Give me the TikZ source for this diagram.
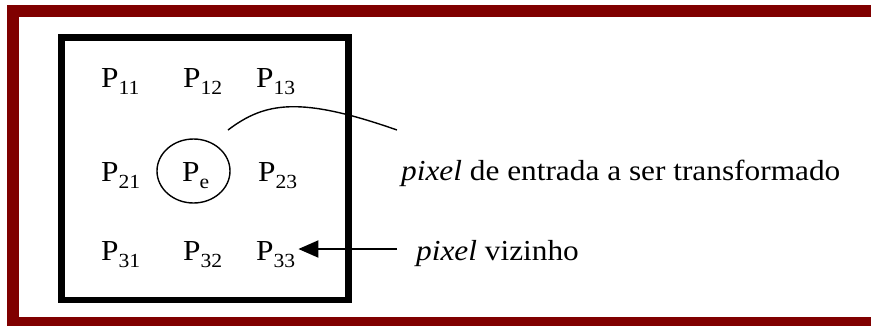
\documentclass[tikz,border=0pt]{standalone}
\usepackage{fontspec}
\setmainfont{Liberation Serif}[FakeStretch=1.08]
\usetikzlibrary{arrows.meta,shapes.geometric}
\usepackage{xcolor}
\definecolor{maroon}{HTML}{800000}
\definecolor{ink}{HTML}{000000}
\newcommand{\pxsub}[1]{\raisebox{-0.25em}{\fontsize{20}{22}\selectfont #1}}
\tikzset{
  every node/.style={font=\fontsize{29}{33}\selectfont,text=ink,inner sep=0pt},
  pix/.style={anchor=base west},
  caption/.style={anchor=base west},
  ring/.style={draw=ink,line width=1.4pt,ellipse,minimum width=73pt,minimum height=64pt,anchor=center},
  outerframe/.style={draw=maroon,line width=12pt},
  window/.style={draw=ink,line width=6.5pt},
  link/.style={draw=ink,line width=1.4pt},
  pointer/.style={-{Triangle[length=20pt,width=17pt]},draw=ink,line width=2pt},
}

\begin{document}
\begin{tikzpicture}[x=1pt,y=-1pt]
\useasboundingbox (0,0) rectangle (871,325);
% frame, open on the right
\draw[outerframe] (890,11.3) -- (13,11.3) -- (13,323) -- (890,323);
\draw[window] (61.7,37.7) rectangle (348.7,300);
% 3x3 neighbourhood
\node[pix] (p11) at (101,87) {P\pxsub{11}};
\node[pix] (p12) at (183,87) {P\pxsub{12}};
\node[pix] (p13) at (256,87) {P\pxsub{13}};
\node[pix] (p21) at (101,181) {P\pxsub{21}};
\node[ring] (pering) at (193.5,171) {};
\node[pix] (pe) at (182,181) {P\pxsub{e}};
\node[pix] (p23) at (258,181) {P\pxsub{23}};
\node[pix] (p31) at (101,260) {P\pxsub{31}};
\node[pix] (p32) at (183,260) {P\pxsub{32}};
\node[pix] (p33) at (256,260) {P\pxsub{33}};
% captions
\node[caption] (entrada) at (401,180) {\textit{pixel} de entrada a ser transformado};
\node[caption] (vizinho) at (416,260) {\textit{pixel} vizinho};
\coordinate (bendstart) at (228,130);
\coordinate (bendend) at (397,130);
\draw[link] (bendstart) .. controls (265,102) and (300,96) .. (bendend);
\coordinate (pointstart) at (397,249);
\draw[pointer] (pointstart) -- ([xshift=3pt]p33.east |- pointstart);
\end{tikzpicture}
\end{document}
